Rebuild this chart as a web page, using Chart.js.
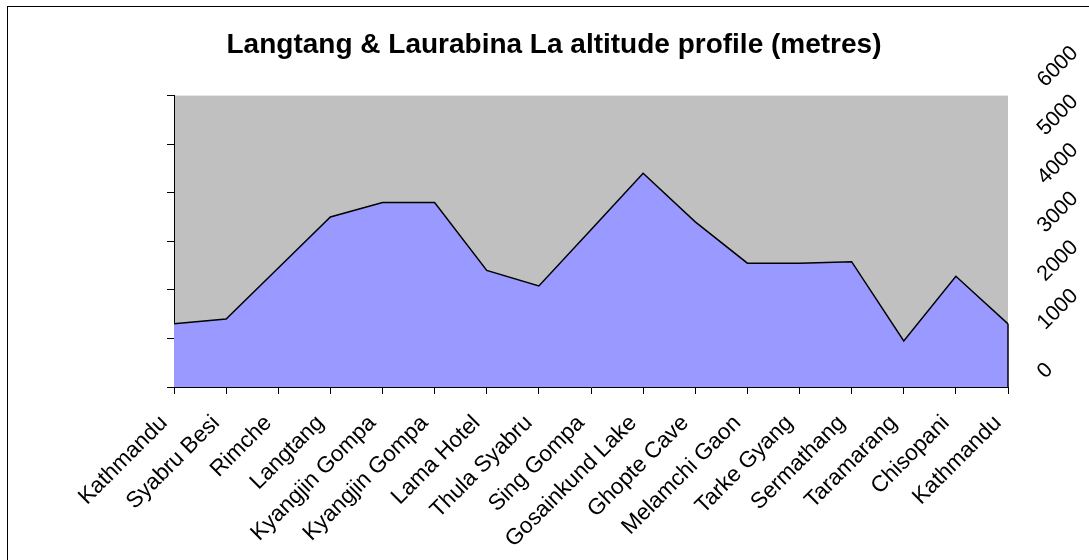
<!DOCTYPE html>
<html>
<head>
<meta charset="utf-8">
<script src="https://cdn.jsdelivr.net/npm/chart.js@4.4.0/dist/chart.umd.min.js"></script>
<style>
  html, body { margin: 0; padding: 0; background: #ffffff; }
  canvas { display: block; }
</style>
</head>
<body>
<canvas id="c" width="1089" height="560"></canvas>
<script>
const titleText = 'Langtang & Laurabina La altitude profile (metres)';
const categories = ['Kathmandu', 'Syabru Besi', 'Rimche', 'Langtang', 'Kyangjin Gompa', 'Kyangjin Gompa', 'Lama Hotel', 'Thula Syabru', 'Sing Gompa', 'Gosainkund Lake', 'Ghopte Cave', 'Melamchi Gaon', 'Tarke Gyang', 'Sermathang', 'Taramarang', 'Chisopani', 'Kathmandu'];
const altitudes = [1300, 1400, 2450, 3500, 3800, 3800, 2400, 2080, 3240, 4400, 3400, 2550, 2550, 2580, 950, 2280, 1300];
const yMin = 0;
const yMax = 6000;
const yStep = 1000;

const FONT = '"Liberation Sans", Arial, sans-serif';

const framePlugin = {
  id: 'frame',
  beforeDraw(chart) {
    const ctx = chart.ctx;
    const a = chart.chartArea;
    ctx.save();
    ctx.fillStyle = '#ffffff';
    ctx.fillRect(0, 0, chart.width, chart.height);
    ctx.strokeStyle = '#000000';
    ctx.lineWidth = 1;
    ctx.strokeRect(7.5, 6.5, 1100, 600);
    ctx.fillStyle = '#C0C0C0';
    ctx.fillRect(a.left, a.top, a.right - a.left, a.bottom - a.top);
    ctx.restore();
  },
  afterDatasetsDraw(chart) {
    const meta = chart.getDatasetMeta(0);
    const pts = meta.data;
    if (!pts.length) return;
    const last = pts[pts.length - 1];
    const ctx = chart.ctx;
    const base = chart.scales.y.getPixelForValue(yMin);
    ctx.save();
    ctx.strokeStyle = '#000000';
    ctx.lineWidth = 1.5;
    ctx.beginPath();
    ctx.moveTo(last.x, last.y);
    ctx.lineTo(last.x, base);
    ctx.stroke();
    ctx.restore();
  }
};

new Chart(document.getElementById('c'), {
  type: 'line',
  data: {
    labels: categories,
    datasets: [{
      data: altitudes,
      yAxisID: 'y',
      fill: 'origin',
      backgroundColor: '#9999FF',
      borderColor: '#000000',
      borderWidth: 1.5,
      pointRadius: 0,
      tension: 0
    }]
  },
  options: {
    responsive: false,
    devicePixelRatio: 1,
    animation: false,
    layout: { padding: { left: 20, right: 1, top: 0, bottom: 0 } },
    plugins: {
      legend: { display: false },
      tooltip: { enabled: false },
      title: {
        display: true,
        text: titleText,
        color: '#000000',
        font: { family: FONT, size: 28, weight: 'bold' },
        padding: { top: 28, bottom: 34 }
      }
    },
    scales: {
      x: {
        offset: false,
        grid: { display: true, drawOnChartArea: false, drawTicks: true, tickLength: 7, color: '#000000' },
        border: { display: true, color: '#000000', width: 1 },
        ticks: {
          color: '#000000',
          font: { family: FONT, size: 22.5 },
          minRotation: 45,
          maxRotation: 45,
          autoSkip: false,
          labelOffset: -10,
          padding: 16
        },
        afterFit(scale) { scale.height = 560 - 387; }
      },
      y: {
        position: 'left',
        min: yMin,
        max: yMax,
        grid: { display: true, drawOnChartArea: false, drawTicks: true, tickLength: 7, color: '#000000' },
        border: { display: true, color: '#000000', width: 1 },
        ticks: { display: false, stepSize: yStep },
        afterFit(scale) { scale.width = 174 - 20; }
      },
      y2: {
        position: 'right',
        min: yMin,
        max: yMax,
        grid: { display: false },
        border: { display: false },
        ticks: {
          stepSize: yStep,
          color: '#000000',
          font: { family: FONT, size: 21.5 },
          minRotation: 45,
          maxRotation: 45,
          padding: 25,
          labelOffset: -12,
          callback: (v) => String(v)
        },
        afterFit(scale) { scale.width = 1089 - 1 - 1008; }
      }
    }
  },
  plugins: [framePlugin]
});
</script>
</body>
</html>
